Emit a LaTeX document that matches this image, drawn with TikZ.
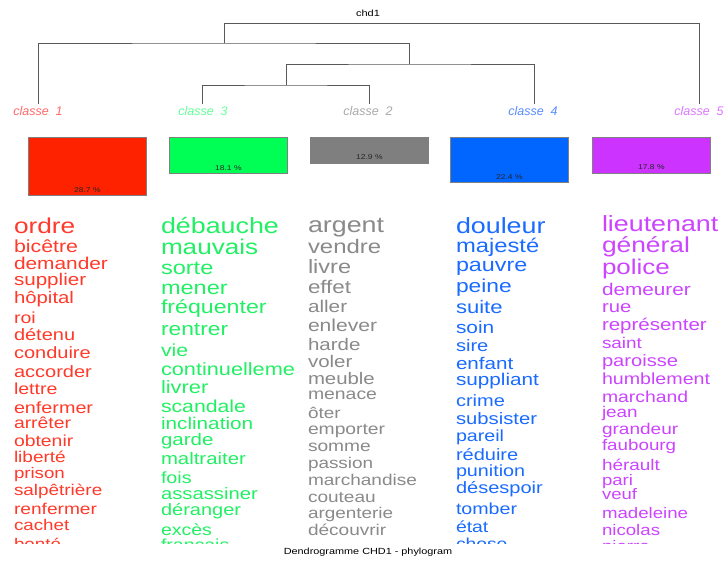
\documentclass[tikz,border=0pt]{standalone}
\usepackage{fontspec}
\setmainfont{Liberation Sans}[FakeStretch=1.22]
\newfontfamily\labfont{Liberation Sans}
\newcommand\fsz[1]{\fontsize{#1}{#1}\selectfont}
\definecolor{cA}{HTML}{FF2200}
\definecolor{cAw}{HTML}{FF3A2A}
\definecolor{cAl}{HTML}{FF6A6A}
\definecolor{cB}{HTML}{00FF55}
\definecolor{cBw}{HTML}{22F064}
\definecolor{cBl}{HTML}{66FF99}
\definecolor{cC}{HTML}{7F7F7F}
\definecolor{cCw}{HTML}{8A8A8A}
\definecolor{cCl}{HTML}{AAAAAA}
\definecolor{cD}{HTML}{0066FF}
\definecolor{cDw}{HTML}{1A6BFF}
\definecolor{cDl}{HTML}{5A8CFF}
\definecolor{cE}{HTML}{CC33FF}
\definecolor{cEw}{HTML}{CC44FF}
\definecolor{cEl}{HTML}{DD77FF}
\begin{document}
\begin{tikzpicture}[x=1pt,y=1pt,
  word/.style={anchor=base west, inner sep=0pt, outer sep=0pt},
  tree/.style={draw=black!65, line width=1pt},
  clab/.style={inner sep=0pt, anchor=base, font=\labfont\itshape\fsz{12.5}},
  bar/.style={draw=black!50, line width=0.8pt, anchor=north west, minimum width=118pt, inner sep=0pt},
  pct/.style={inner sep=0pt, anchor=base, font=\fsz{7}, text=black!85}]
\fill[white] (0,0) rectangle (726,-560);
\useasboundingbox (0,0) rectangle (726,-560);
% dendrogram
\node[inner sep=0pt, font=\fsz{9}] (title) at (368,-13) {chd1};
\coordinate (e1) at (38,-104);
\coordinate (e3) at (202,-104);
\coordinate (e2) at (369,-104);
\coordinate (e4) at (534,-104);
\coordinate (e5) at (699,-104);
\coordinate (jC) at (286,-85);
\coordinate (jB) at (409,-64);
\coordinate (jA) at (224,-43);
\coordinate (jR) at (224,-23);
\draw[tree] (e3) |- (jC) -| (e2);
\draw[tree] (jC) |- (jB) -| (e4);
\draw[tree] (e1) |- (jA) -| (jB);
\draw[tree] (jA) |- (jR) -| (e5);
% class labels
\node[clab, text=cAl] (l1) at (38,-115) {classe\ \ 1};
\node[clab, text=cBl] (l3) at (203,-115) {classe\ \ 3};
\node[clab, text=cCl] (l2) at (368,-115) {classe\ \ 2};
\node[clab, text=cDl] (l4) at (533,-115) {classe\ \ 4};
\node[clab, text=cEl] (l5) at (699,-115) {classe\ \ 5};
% bars
\node[bar, fill=cA, minimum height=58pt] (b1) at (28,-137) {};
\node[bar, fill=cB, minimum height=36pt] (b3) at (169,-137) {};
\node[bar, fill=cC, minimum height=26pt] (b2) at (310,-137) {};
\node[bar, fill=cD, minimum height=45pt] (b4) at (450,-137) {};
\node[bar, fill=cE, minimum height=36pt] (b5) at (592,-137) {};
\node[pct] (p1) at ([yshift=3pt]b1.south) {28.7 \%};
\node[pct] (p3) at ([yshift=3pt]b3.south) {18.1 \%};
\node[pct] (p2) at ([yshift=4pt]b2.south) {12.9 \%};
\node[pct] (p4) at ([yshift=3pt]b4.south) {22.4 \%};
\node[pct] (p5) at ([yshift=4pt]b5.south) {17.8 \%};
% word lists
\begin{scope}
\clip (0,-195) rectangle (726,-543);
\foreach \s/\y/\t [count=\i] in {21.5/233/ordre,17.5/252/bicêtre,17.1/269/demander,16.9/285/supplier,16.7/303/hôpital,16.0/323/roi,16.4/340/détenu,16.4/358/conduire,16.4/377/accorder,16.0/394/lettre,16.2/413/enfermer,15.9/428/arrêter,15.9/446/obtenir,15.6/462/liberté,15.3/478/prison,15.5/495/salpêtrière,15.7/514/renfermer,15.4/530/cachet,15.4/549/bonté}
  {\node[word, text=cAw, font=\fsz{\s}] (wa\i) at (14,-\y) {\t};}
\foreach \s/\y/\t [count=\i] in {22/233/débauche,21.4/254/mauvais,19.3/274/sorte,19.3/294/mener,19/313/fréquenter,18.7/335/rentrer,17.5/356/vie,17.8/375/continuelleme,17.9/393/livrer,17.4/412/scandale,17/429/inclination,16.8/445/garde,16.7/464/maltraiter,16.2/483/fois,16.6/499/assassiner,16.4/515/déranger,16/535/excès,16/550/français}
  {\node[word, text=cBw, font=\fsz{\s}] (wb\i) at (161,-\y) {\t};}
\foreach \s/\y/\t [count=\i] in {22/232/argent,19.6/253/vendre,19.3/273/livre,18.3/293/effet,17/312/aller,17.3/331/enlever,16.8/350/harde,16.8/367/voler,16.7/384/meuble,15.9/399/menace,15.5/418/ôter,15.8/434/emporter,15.7/451/somme,15.5/468/passion,15.6/485/marchandise,15.6/502/couteau,15.5/518/argenterie,15.6/535/découvrir}
  {\node[word, text=cCw, font=\fsz{\s}] (wc\i) at (308,-\y) {\t};}
\foreach \s/\y/\t [count=\i] in {22/233/douleur,19.5/252/majesté,19.1/271/pauvre,18.7/292/peine,18.1/313/suite,17.1/333/soin,16.5/351/sire,16.9/369/enfant,17/385/suppliant,16.4/406/crime,16.6/424/subsister,16.1/441/pareil,16.4/460/réduire,16.2/476/punition,16.4/493/désespoir,16.1/514/tomber,15.9/532/état,15.8/549/chose}
  {\node[word, text=cDw, font=\fsz{\s}] (wd\i) at (456,-\y) {\t};}
\foreach \s/\y/\t [count=\i] in {22/231/lieutenant,21.6/252/général,21.3/274/police,17/295/demeurer,16.6/312/rue,16.8/330/représenter,15.5/348/saint,16.5/366/paroisse,16.1/384/humblement,15.9/402/marchand,15.5/417/jean,15.6/434/grandeur,15.4/450/faubourg,15.5/470/hérault,15.2/485/pari,15.2/499/veuf,15.3/518/madeleine,15.3/535/nicolas,15.3/551/pierre}
  {\node[word, text=cEw, font=\fsz{\s}] (we\i) at (602,-\y) {\t};}
\end{scope}
\node[inner sep=0pt, font=\fsz{8.9}] (foot) at (368,-552) {Dendrogramme CHD1 - phylogram};
\end{tikzpicture}
\end{document}
